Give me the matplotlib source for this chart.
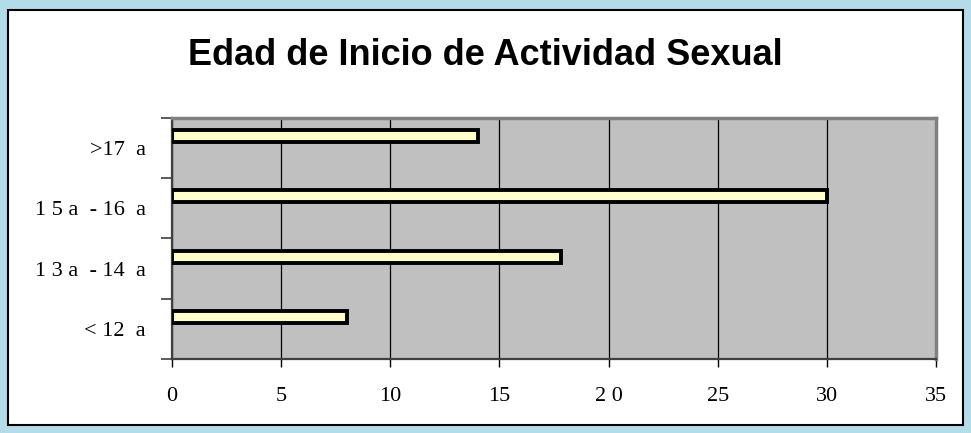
import numpy as np
import matplotlib.pyplot as plt
from matplotlib.patches import Rectangle

# data, bottom to top as drawn
categories = ["< 12  a", "1 3 a  - 14  a", "1 5 a  - 16  a", ">17  a"]
values = [8.0, 17.8, 30.0, 14.0]
xticks = [0, 5, 10, 15, 20, 25, 30, 35]
xtick_labels = ["0", "5", "10", "15", "2 0", "25", "30", "35"]
title = "Edad de Inicio de Actividad Sexual"

fig = plt.figure(figsize=(9.71, 4.33), dpi=100)
fig.patch.set_facecolor("#b4dce8")

# white inner panel with black frame
W, H = 971, 433
panel = Rectangle((8 / W, 1 - 425 / H), (963 - 8) / W, (425 - 10) / H,
                  transform=fig.transFigure, facecolor="white",
                  edgecolor="black", linewidth=1.5, zorder=-5)
fig.patches.append(panel)

fig.text(485 / W, 1 - 65 / H, title, ha="center", va="baseline",
         fontsize=26, fontweight="bold", family="Liberation Sans")

ax = fig.add_axes([172 / W, 74 / H, 764 / W, 241 / H])
ax.set_zorder(2)
ax.set_facecolor("#c0c0c0")

y = np.arange(len(categories))
ax.barh(y + 0.2, values, height=0.2, color="#ffffcc",
        edgecolor="black", linewidth=2.8, zorder=3)

ax.set_xlim(0, 35)
ax.set_ylim(-0.5, len(categories) - 0.5)
ax.set_xticks(xticks)
ax.set_xticklabels(xtick_labels, family="Liberation Serif", fontsize=16)
ax.xaxis.grid(True, color="black", linewidth=0.9, zorder=1)
ax.set_axisbelow(True)

# category boundaries as ticks, labels in between
ax.set_yticks(np.arange(-0.5, len(categories), 1.0))
ax.set_yticklabels([])
ax.set_yticks(y, minor=True)
ax.set_yticklabels(categories, minor=True, family="Liberation Serif",
                   fontsize=16)
ax.tick_params(axis="y", which="major", length=8, width=1.2,
               color="#404040", direction="out")
ax.tick_params(axis="y", which="minor", length=0, pad=19)
ax.tick_params(axis="x", length=6, width=1, color="black", pad=14)

for side in ["top", "right"]:
    ax.spines[side].set_color("#808080")
    ax.spines[side].set_linewidth(2.5)
for side in ["left", "bottom"]:
    ax.spines[side].set_color("#404040")
    ax.spines[side].set_linewidth(1.6)

fig.savefig("out.png", dpi=100, facecolor=fig.get_facecolor())
